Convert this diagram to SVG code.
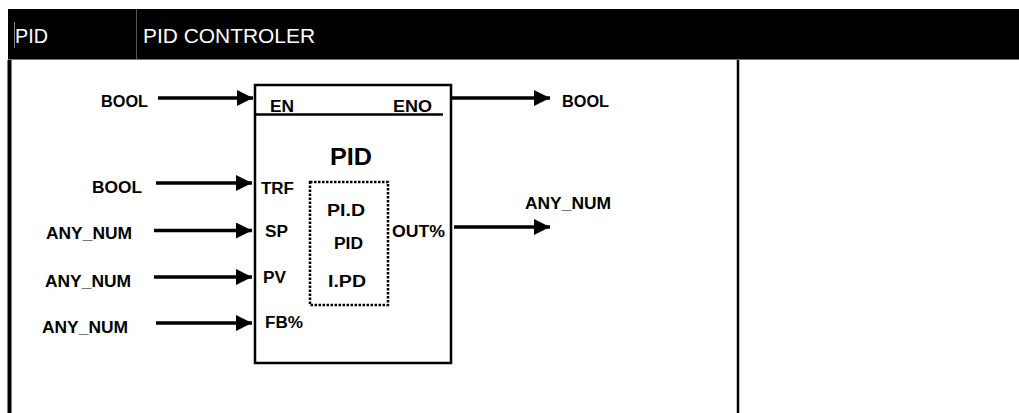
<svg xmlns="http://www.w3.org/2000/svg" width="1019" height="413" viewBox="0 0 1019 413">
<style>
.lbl{font-family:"Liberation Sans",Arial,sans-serif;font-weight:bold;font-size:16px;fill:#000}
.hdr{font-family:"Liberation Sans",Arial,sans-serif;font-size:20px;fill:#fff}
.wire{stroke:#000;stroke-width:3.5;fill:none}
</style>
<defs>
<marker id="ah" viewBox="0 0 16 16" refX="16" refY="8" markerWidth="16" markerHeight="16" markerUnits="userSpaceOnUse" orient="auto">
<path d="M0,0 L16,8 L0,16 Z" fill="#000"/>
</marker>
</defs>
<rect width="1019" height="413" fill="#fff"/>
<g id="header">
<rect x="8" y="9" width="1011" height="50" fill="#000"/>
<line x1="14.5" y1="22" x2="14.5" y2="48" stroke="#888" stroke-width="1"/>
<line x1="136.5" y1="9" x2="136.5" y2="60" stroke="#555" stroke-width="1"/>
<line x1="8" y1="59.5" x2="1019" y2="59.5" stroke="#777" stroke-width="1"/>
<text class="hdr" x="15" y="43" textLength="33" lengthAdjust="spacingAndGlyphs">PID</text>
<text class="hdr" x="143" y="43" textLength="172" lengthAdjust="spacingAndGlyphs">PID CONTROLER</text>
</g>
<g id="frame">
<line x1="9.5" y1="60" x2="9.5" y2="413" stroke="#000" stroke-width="4"/>
<line x1="738" y1="60" x2="738" y2="413" stroke="#000" stroke-width="2.5"/>
</g>
<g id="pid-block">
<rect x="255" y="85" width="196" height="278" fill="none" stroke="#000" stroke-width="2.5"/>
<line x1="255" y1="114.5" x2="443" y2="114.5" stroke="#000" stroke-width="2.5"/>
<text class="lbl" x="270" y="112" textLength="24" lengthAdjust="spacingAndGlyphs">EN</text>
<text class="lbl" x="393" y="112" textLength="39" lengthAdjust="spacingAndGlyphs">ENO</text>
<text class="lbl" x="330" y="165" style="font-size:23px" textLength="42" lengthAdjust="spacingAndGlyphs">PID</text>
<text class="lbl" x="261" y="194" textLength="33" lengthAdjust="spacingAndGlyphs">TRF</text>
<text class="lbl" x="265" y="237" textLength="23" lengthAdjust="spacingAndGlyphs">SP</text>
<text class="lbl" x="263" y="283" textLength="23" lengthAdjust="spacingAndGlyphs">PV</text>
<text class="lbl" x="265" y="328" textLength="38" lengthAdjust="spacingAndGlyphs">FB%</text>
<text class="lbl" x="392" y="237" textLength="53" lengthAdjust="spacingAndGlyphs">OUT%</text>
</g>
<g id="modes">
<rect x="310" y="182" width="78" height="123" fill="none" stroke="#000" stroke-width="2.5" stroke-dasharray="2.5 1.5"/>
<text class="lbl" x="327" y="216" textLength="38" lengthAdjust="spacingAndGlyphs">PI.D</text>
<text class="lbl" x="334" y="249" textLength="29" lengthAdjust="spacingAndGlyphs">PID</text>
<text class="lbl" x="328" y="287" textLength="38" lengthAdjust="spacingAndGlyphs">I.PD</text>
</g>
<g id="type-labels">
<text class="lbl" x="101" y="107" textLength="47" lengthAdjust="spacingAndGlyphs">BOOL</text>
<text class="lbl" x="92" y="193" textLength="50" lengthAdjust="spacingAndGlyphs">BOOL</text>
<text class="lbl" x="46" y="239" textLength="86" lengthAdjust="spacingAndGlyphs">ANY_NUM</text>
<text class="lbl" x="45" y="287" textLength="86" lengthAdjust="spacingAndGlyphs">ANY_NUM</text>
<text class="lbl" x="42" y="333" textLength="86" lengthAdjust="spacingAndGlyphs">ANY_NUM</text>
<text class="lbl" x="562" y="107" textLength="47" lengthAdjust="spacingAndGlyphs">BOOL</text>
<text class="lbl" x="525" y="209" textLength="86" lengthAdjust="spacingAndGlyphs">ANY_NUM</text>
</g>
<g id="connectors">
<line class="wire" x1="158" y1="98" x2="253" y2="98" marker-end="url(#ah)"/>
<line class="wire" x1="156" y1="183" x2="252" y2="183" marker-end="url(#ah)"/>
<line class="wire" x1="154" y1="230.5" x2="252" y2="230.5" marker-end="url(#ah)"/>
<line class="wire" x1="154" y1="277" x2="252" y2="277" marker-end="url(#ah)"/>
<line class="wire" x1="156" y1="323" x2="252" y2="323" marker-end="url(#ah)"/>
<line class="wire" x1="452" y1="98" x2="550" y2="98" marker-end="url(#ah)"/>
<line class="wire" x1="454" y1="227" x2="550" y2="227" marker-end="url(#ah)"/>
</g>
</svg>
